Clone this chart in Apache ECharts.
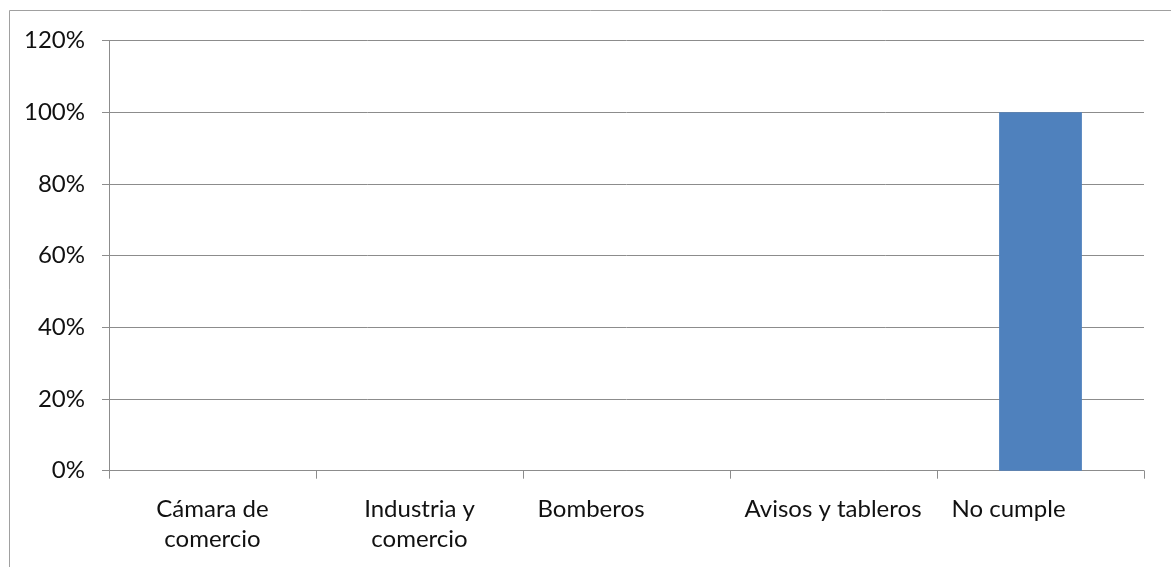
<!DOCTYPE html>
<html>
<head>
<meta charset="utf-8">
<script src="https://cdn.jsdelivr.net/npm/echarts@6/dist/echarts.min.js"></script>
<style>
html,body{margin:0;padding:0;background:#fff;}
#c{width:1171px;height:567px;}
</style>
</head>
<body>
<div id="c"></div>
<script>
var categories = ['Cámara de\ncomercio', 'Industria y\ncomercio', 'Bomberos', 'Avisos y tableros', 'No cumple'];
var values = [0, 0, 0, 0, 1];
var yTicks = { min: 0, max: 1.2, interval: 0.2 };

var FONT = 'Lato';
var FS = 24;
var chart = echarts.init(document.getElementById('c'), null, { renderer: 'canvas' });
chart.setOption({
  animation: false,
  backgroundColor: '#fff',
  graphic: [{
    type: 'rect',
    shape: { x: 9.5, y: 10.5, width: 1300, height: 700 },
    style: { fill: 'none', stroke: '#a0a0a0', lineWidth: 1 },
    silent: true
  }],
  grid: { left: 109, right: 27, top: 40.7, bottom: 96.3, containLabel: false },
  xAxis: {
    type: 'category',
    data: categories,
    axisLine: { show: true, lineStyle: { color: '#8c8c8c', width: 1 } },
    axisTick: { show: true, length: 8, alignWithLabel: false, lineStyle: { color: '#8c8c8c' } },
    axisLabel: {
      interval: 0,
      margin: 24,
      color: '#111',
      fontFamily: FONT,
      fontSize: FS,
      lineHeight: 30,
      formatter: function (v) {
        return v.indexOf('\n') >= 0 ? v : '{l|' + v + '}';
      },
      rich: {
        l: { width: 178, align: 'left', fontFamily: FONT, fontSize: FS, color: '#111', lineHeight: 30 }
      }
    },
    splitLine: { show: false }
  },
  yAxis: {
    type: 'value',
    min: yTicks.min,
    max: yTicks.max,
    interval: yTicks.interval,
    axisLine: { show: true, lineStyle: { color: '#8c8c8c', width: 1 } },
    axisTick: { show: true, length: 7, lineStyle: { color: '#8c8c8c' } },
    axisLabel: {
      margin: 24,
      color: '#111',
      fontFamily: FONT,
      fontSize: FS,
      formatter: function (v) { return Math.round(v * 100) + '%'; }
    },
    splitLine: { show: true, lineStyle: { color: '#8c8c8c', width: 1 } }
  },
  series: [{
    type: 'bar',
    data: values,
    barWidth: '40%',
    itemStyle: { color: '#4F81BD' }
  }]
});
</script>
</body>
</html>
